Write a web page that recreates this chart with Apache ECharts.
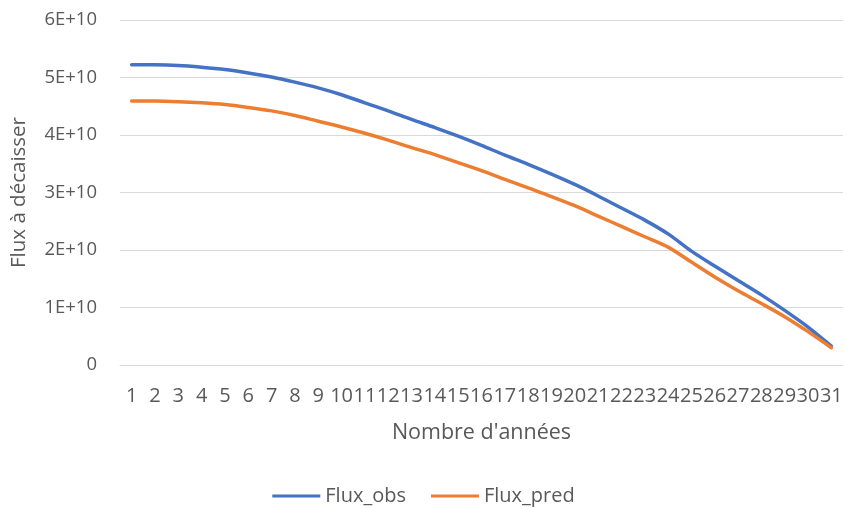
<!DOCTYPE html>
<html>
<head>
<meta charset="utf-8">
<script src="https://cdn.jsdelivr.net/npm/echarts@6/dist/echarts.min.js"></script>
<style>
  html, body { margin: 0; padding: 0; background: #fff; }
  #chart { width: 847px; height: 508px; }
</style>
</head>
<body>
<div id="chart"></div>
<script>
// Years 1..31
const years = Array.from({ length: 31 }, (_, i) => String(i + 1));

// Observed cash flows to pay out (units of 1E+10)
const fluxObs = [5.22, 5.22, 5.21, 5.18, 5.14, 5.08, 5.01, 4.92, 4.82, 4.70,
                 4.56, 4.42, 4.27, 4.13, 3.98, 3.82, 3.65, 3.49, 3.32, 3.14,
                 2.94, 2.73, 2.52, 2.28, 1.98, 1.72, 1.47, 1.22, 0.95, 0.66, 0.33];

// Predicted cash flows to pay out (units of 1E+10)
const fluxPred = [4.59, 4.59, 4.58, 4.56, 4.53, 4.48, 4.42, 4.34, 4.24, 4.14,
                  4.03, 3.91, 3.78, 3.66, 3.52, 3.38, 3.23, 3.08, 2.93, 2.77,
                  2.59, 2.41, 2.23, 2.05, 1.79, 1.53, 1.29, 1.07, 0.84, 0.58, 0.30];

const yTicks = [0, 1e10, 2e10, 3e10, 4e10, 5e10, 6e10];

const SCALE = 1e10;
const font = '"Open Sans", "Liberation Sans", sans-serif';
const textColor = '#595959';

const chart = echarts.init(document.getElementById('chart'), null, { renderer: 'canvas' });

chart.setOption({
  animation: false,
  textStyle: { fontFamily: font },
  grid: { left: 120, right: 4, top: 20, bottom: 143 },
  legend: {
    top: 486,
    left: 'center',
    padding: 0,
    icon: 'rect',
    itemWidth: 48,
    itemHeight: 3,
    itemGap: 25,
    textStyle: { fontFamily: font, fontSize: 20, color: textColor },
    data: ['Flux_obs', 'Flux_pred']
  },
  xAxis: {
    type: 'category',
    data: years,
    boundaryGap: true,
    name: "Nombre d'années",
    nameLocation: 'middle',
    nameGap: 57,
    nameTextStyle: { fontFamily: font, fontSize: 21.5, color: textColor },
    axisLine: { show: true, lineStyle: { color: '#D9D9D9', width: 1 } },
    axisTick: { show: false },
    axisLabel: { interval: 0, fontFamily: font, fontSize: 20, color: textColor, margin: 21 }
  },
  yAxis: {
    type: 'value',
    min: yTicks[0],
    max: yTicks[yTicks.length - 1],
    interval: yTicks[1] - yTicks[0],
    name: 'Flux à décaisser',
    nameLocation: 'middle',
    nameGap: 90,
    nameTextStyle: { fontFamily: font, fontSize: 20.5, color: textColor },
    axisLine: { show: false },
    axisTick: { show: false },
    splitLine: { lineStyle: { color: '#D9D9D9', width: 1 } },
    axisLabel: {
      fontFamily: font, fontSize: 18.5, color: textColor, margin: 23,
      formatter: v => (v === 0 ? '0' : (v / SCALE) + 'E+10')
    }
  },
  series: [
    {
      name: 'Flux_obs',
      type: 'line',
      data: fluxObs.map(v => v * SCALE),
      smooth: 0.3,
      showSymbol: false,
      lineStyle: { color: '#4472C4', width: 3.5, cap: 'round' },
      itemStyle: { color: '#4472C4' }
    },
    {
      name: 'Flux_pred',
      type: 'line',
      data: fluxPred.map(v => v * SCALE),
      smooth: 0.3,
      showSymbol: false,
      lineStyle: { color: '#ED7D31', width: 3.5, cap: 'round' },
      itemStyle: { color: '#ED7D31' }
    }
  ]
});
</script>
</body>
</html>
